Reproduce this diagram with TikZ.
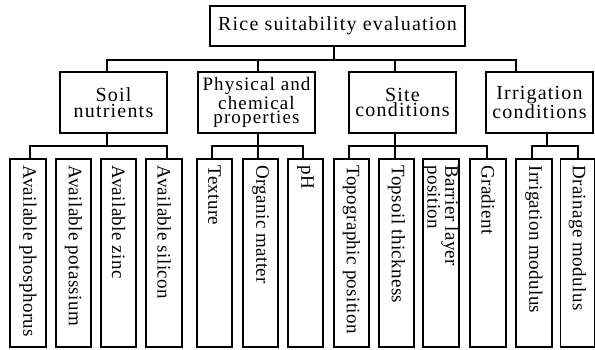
\documentclass[tikz,border=0pt]{standalone}
\usepackage{fontspec}
\newfontfamily\dfont[LetterSpace=6]{Liberation Serif}
\newfontfamily\vfont[LetterSpace=2]{Liberation Serif}
\begin{document}
\begin{tikzpicture}[x=1pt,y=-1pt,
  box/.style={draw, line width=1.7pt, inner sep=0pt, align=center,
    font={\dfont\fontsize{20}{15.5}\selectfont}},
  leaf/.style={draw, line width=1.7pt, inner sep=0pt, minimum width=35.5pt, minimum height=188pt},
  vt/.style={inner sep=0pt, rotate=-90, anchor=west, align=left,
    font={\vfont\fontsize{19}{13}\selectfont}},
  conn/.style={line width=1.7pt}]
\useasboundingbox (0,0) rectangle (595,349);
% top
\node[box, minimum width=255pt, minimum height=40pt] (top) at (337.5,26) {Rice suitability evaluation};
% level 2
\node[box, minimum width=107pt, minimum height=61pt] (soil) at (113.5,102.5) {Soil\\nutrients};
\node[box, minimum width=117pt, minimum height=61pt, font={\dfont\fontsize{19}{14.2}\selectfont}] (phys) at (256.5,102.5) {Physical and\\chemical\\properties};
\node[box, minimum width=107pt, minimum height=61pt] (site) at (402.5,102.5) {Site\\conditions};
\node[box, minimum width=107pt, minimum height=61pt] (irr) at (539.5,102.5) {Irrigation\\conditions};
% level 3 boxes
\node[leaf] (ap) at (28,253) {};
\node[leaf] (apo) at (73.5,253) {};
\node[leaf] (az) at (118.5,253) {};
\node[leaf] (as) at (164,253) {};
\node[leaf] (tex) at (214.5,253) {};
\node[leaf] (om) at (260.5,253) {};
\node[leaf] (ph) at (305.5,253) {};
\node[leaf] (tp) at (351.5,253) {};
\node[leaf] (tt) at (396.5,253) {};
\node[leaf] (bl) at (441,253) {};
\node[leaf] (gr) at (488,253) {};
\node[leaf] (im) at (534,253) {};
\node[leaf, minimum width=34pt] (dm) at (577.5,253) {};
% level 3 texts
\node[vt] (apt) at ([yshift=-7pt]ap.north) {Available phosphorus};
\node[vt] (apot) at ([yshift=-7pt]apo.north) {Available potassium};
\node[vt] (azt) at ([yshift=-7pt]az.north) {Available zinc};
\node[vt] (ast) at ([yshift=-7pt]as.north) {Available silicon};
\node[vt] (text) at ([yshift=-7pt]tex.north) {Texture};
\node[vt] (omt) at ([yshift=-7pt]om.north) {Organic matter};
\node[vt] (pht) at ([yshift=-7pt]ph.north) {pH};
\node[vt] (tpt) at ([yshift=-7pt]tp.north) {Topographic position};
\node[vt] (ttt) at ([yshift=-7pt]tt.north) {Topsoil thickness};
\node[vt] (blt) at ([yshift=-7pt]bl.north) {Barrier layer\\position};
\node[vt] (grt) at ([yshift=-7pt]gr.north) {Gradient};
\node[vt] (imt) at ([yshift=-7pt]im.north) {Irrigation modulus};
\node[vt] (dmt) at ([yshift=-7pt]dm.north) {Drainage modulus};
% junction coordinates
\coordinate (j0) at (334,60);
\coordinate (j1) at (107,60);
\coordinate (j2) at (258,60);
\coordinate (j3) at (395,60);
\coordinate (j4) at (516,60);
\coordinate (k1) at (107,146);
\coordinate (k2) at (258,146);
\coordinate (k3) at (395,146);
\coordinate (k4) at (547,146);
% top connectors
\draw[conn] (top.south -| j0) -- (j0);
\draw[conn] (soil.north -| j1) -- (j1) -- (j4) -- (irr.north -| j4);
\draw[conn] (phys.north -| j2) -- (j2);
\draw[conn] (site.north -| j3) -- (j3);
% soil
\draw[conn] (soil.south -| k1) -- (k1);
\draw[conn] (ap.north -| 30,0) |- (k1);
\draw[conn] (as.north -| 167,0) |- (k1);
\draw[conn] (apo.north -| 76,0) -- (apo.north -| 76,146);
\draw[conn] (az.north -| 121,0) -- (az.north -| 121,146);
% physical
\draw[conn] (phys.south -| k2) -- (om.north -| k2);
\draw[conn] (tex.north -| 212,0) |- (k2);
\draw[conn] (ph.north -| 303,0) |- (k2);
% site
\draw[conn] (site.south -| k3) -- (tt.north -| k3);
\draw[conn] (tp.north -| 349,0) |- (k3);
\draw[conn] (gr.north -| 487,0) |- (k3);
\draw[conn] (bl.north -| 441,0) -- (bl.north -| 441,146);
% irrigation
\draw[conn] (irr.south -| k4) -- (k4);
\draw[conn] (im.north -| 532,0) |- (k4);
\draw[conn] (dm.north -| 578,0) |- (k4);
\end{tikzpicture}
\end{document}
